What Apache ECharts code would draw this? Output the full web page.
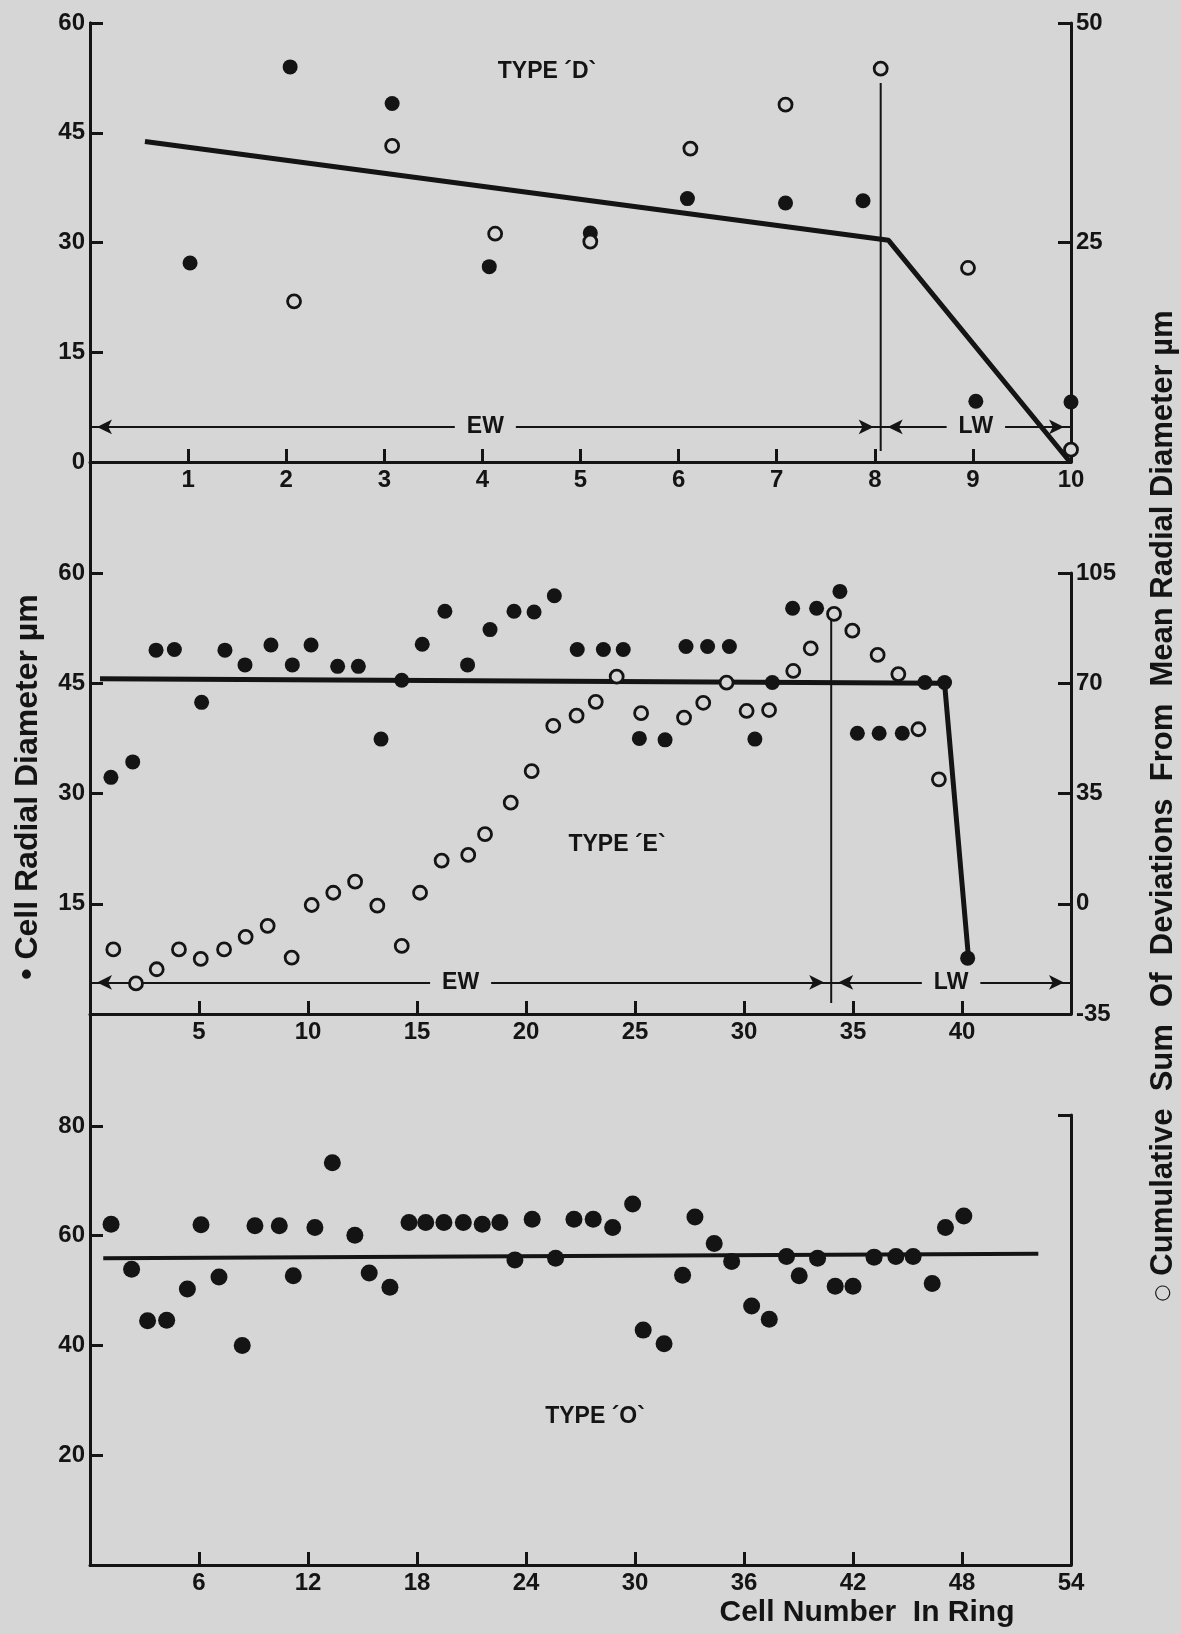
<!DOCTYPE html>
<html>
<head>
<meta charset="utf-8">
<script src="https://cdn.jsdelivr.net/npm/echarts@6/dist/echarts.min.js"></script>
<style>
html,body{margin:0;padding:0;background:#d5d5d5;}
#c{width:1181px;height:1634px;}
</style>
</head>
<body>
<div id="c"></div>
<script>
// ---------------- DATA ----------------
// Panel 1: TYPE 'D'
const typeD_xTicks = [1,2,3,4,5,6,7,8,9,10];
const typeD_leftTicks = [0,15,30,45,60];
const typeD_rightTicks = [25,50];
const typeD_filled = [[1.02,27.2],[2.04,54.0],[3.08,49.0],[4.07,26.7],[5.1,31.3],[6.09,36.0],[7.09,35.4],[7.88,35.7],[9.03,8.3],[10.0,8.2]];
const typeD_open = [[2.08,18.3],[3.08,36.0],[4.13,26.0],[5.1,25.1],[6.12,35.7],[7.09,40.7],[8.06,44.8],[8.95,22.1],[10.0,1.4]];
const typeD_fit = [[0.56,43.8],[8.14,30.3],[9.99,0]];
const typeD_boundary = [[8.06,51.8],[8.06,1.5]];
const typeD_zones = [['EW',0,8.06,4.8],['LW',8.06,10,4.8]];

// Panel 2: TYPE 'E'
const typeE_xTicks = [5,10,15,20,25,30,35,40];
const typeE_leftTicks = [15,30,45,60];
const typeE_rightLabels = [-35,0,35,70,105];
const typeE_rightTicks = [0,35,70,105];
const typeE_filled = [[0.96,32.2],[1.96,34.3],[3.03,49.5],[3.87,49.6],[5.12,42.4],[6.19,49.5],[7.11,47.5],[8.3,50.2],[9.28,47.5],[10.14,50.2],[11.36,47.3],[12.31,47.3],[13.35,37.4],[14.3,45.4],[15.24,50.3],[16.28,54.8],[17.32,47.5],[18.35,52.3],[19.45,54.8],[20.37,54.7],[21.3,56.9],[22.35,49.6],[23.55,49.6],[24.46,49.6],[25.2,37.5],[26.38,37.3],[27.34,50.0],[28.33,50.0],[29.33,50.0],[30.5,37.4],[31.3,45.1],[32.23,55.2],[33.33,55.2],[34.4,57.5],[35.2,38.2],[36.2,38.2],[37.26,38.2],[38.3,45.1],[39.2,45.1],[40.26,7.6]];
const typeE_open = [[1.07,-14.5],[2.11,-25.3],[3.06,-20.8],[4.08,-14.5],[5.08,-17.5],[6.15,-14.5],[7.14,-10.5],[8.15,-7.0],[9.25,-17.1],[10.17,-0.4],[11.16,3.5],[12.16,7.0],[13.18,-0.6],[14.3,-13.4],[15.14,3.5],[16.13,13.7],[17.35,15.5],[18.12,22.1],[19.3,32.1],[20.26,42.1],[21.25,56.5],[22.32,59.7],[23.2,64.1],[24.16,72.1],[25.28,60.5],[27.25,59.1],[28.13,63.8],[29.2,70.2],[30.12,61.2],[31.15,61.5],[32.26,73.9],[33.06,81.1],[34.13,92.0],[34.97,86.7],[36.13,79.0],[37.08,72.9],[38.0,55.4],[38.94,39.5]];
const typeE_fit = [[0.46,45.6],[39.2,45.0],[40.3,7.6]];
const typeE_boundary = [[34.0,53.8],[34.0,1.5]];
const typeE_zones = [['EW',0,34.0,4.3],['LW',34.0,45,4.3]];

// Panel 3: TYPE 'O'
const typeO_xTicks = [6,12,18,24,30,36,42,48,54];
const typeO_leftTicks = [20,40,60,80];
const typeO_filled = [[1.16,62.1],[2.29,53.9],[3.17,44.5],[4.22,44.6],[5.36,50.3],[6.11,62.0],[7.1,52.5],[8.38,40.0],[9.08,61.8],[10.42,61.8],[11.19,52.7],[12.38,61.5],[13.34,73.3],[14.58,60.1],[15.37,53.2],[16.51,50.6],[17.56,62.4],[18.48,62.4],[19.48,62.4],[20.55,62.4],[21.59,62.1],[22.56,62.4],[23.39,55.6],[24.34,63.0],[25.63,55.9],[26.64,63.0],[27.7,63.0],[28.77,61.5],[29.87,65.8],[30.45,42.8],[31.6,40.3],[32.62,52.8],[33.3,63.4],[34.36,58.6],[35.32,55.3],[36.42,47.2],[37.39,44.8],[38.34,56.2],[39.04,52.7],[40.05,55.9],[41.02,50.8],[42.0,50.8],[43.16,56.1],[44.36,56.2],[45.31,56.2],[46.36,51.3],[47.09,61.5],[48.1,63.6]];
const typeO_fit = [[0.73,55.9],[52.2,56.7]];

// ---------------- STYLE ----------------
const BG = '#d6d6d6';
const INK = '#141414';
const FONT = '"Liberation Sans", Arial, Helvetica, sans-serif';

function xAx(gi, max, ticks) {
  return {
    type: 'value', gridIndex: gi, min: 0, max: max,
    axisLine: {show: true, onZero: false, lineStyle: {color: INK, width: 3}},
    axisTick: {show: true, inside: true, length: 13, lineStyle: {color: INK, width: 3}, customValues: ticks},
    axisLabel: {show: true, customValues: ticks, color: INK, fontSize: 24, fontWeight: 'bold', fontFamily: FONT, margin: 6},
    splitLine: {show: false}
  };
}
function yAx(gi, min, max, pos, tickVals, labelVals) {
  return {
    type: 'value', gridIndex: gi, min: min, max: max, position: pos,
    axisLine: {show: true, onZero: false, lineStyle: {color: INK, width: 3}},
    axisTick: {show: tickVals.length > 0, inside: true, length: 13, lineStyle: {color: INK, width: 3}, customValues: tickVals},
    axisLabel: {show: labelVals.length > 0, customValues: labelVals, color: INK, fontSize: 24, fontWeight: 'bold', fontFamily: FONT, margin: 5},
    splitLine: {show: false}
  };
}
function filledSeries(xi, yi, data, size) {
  return {type: 'scatter', xAxisIndex: xi, yAxisIndex: yi, data: data, symbol: 'circle', symbolSize: size,
    itemStyle: {color: INK, opacity: 1}, silent: true, z: 5};
}
function openSeries(xi, yi, data) {
  return {type: 'scatter', xAxisIndex: xi, yAxisIndex: yi, data: data, symbol: 'circle', symbolSize: 13,
    itemStyle: {color: BG, borderColor: INK, borderWidth: 2.8, opacity: 1}, silent: true, z: 6};
}
function lineSeries(xi, yi, data, width, zones) {
  const s = {type: 'line', xAxisIndex: xi, yAxisIndex: yi, data: data, symbol: 'none', silent: true,
    lineStyle: {color: INK, width: width}, z: 4};
  if (zones) {
    s.markLine = {
      silent: true, animation: false,
      symbol: ['arrow', 'arrow'], symbolSize: [11, 15], symbolOffset: [[0, 7], [0, 7]],
      lineStyle: {color: INK, width: 2, type: 'solid'},
      label: {show: true, position: 'middle', distance: 0, verticalAlign: 'middle', formatter: '{b}',
        color: INK, fontSize: 23, fontWeight: 'bold', fontFamily: FONT, backgroundColor: BG, padding: [2, 12]},
      emphasis: {disabled: true},
      data: zones.map(z => [{name: z[0], coord: [z[1], z[3]]}, {name: z[0], coord: [z[2], z[3]]}])
    };
  }
  return s;
}

const chart = echarts.init(document.getElementById('c'), null, {renderer: 'canvas'});
const L = 90, W = 981;
const titleStyle = (txt, size) => ({text: txt, fontSize: size, fontWeight: 'bold', fontFamily: FONT, fill: INK,
  align: 'center', verticalAlign: 'middle',
  rich: {c: {fontSize: 20, fontWeight: 'bold', fontFamily: '"DejaVu Sans", sans-serif', fill: INK, verticalAlign: 'middle'}}});
const option = {
  backgroundColor: BG,
  animation: false,
  grid: [
    {left: L, top: 23, width: W, height: 439, outerBoundsMode: 'none', containLabel: false},
    {left: L, top: 573, width: W, height: 441, outerBoundsMode: 'none', containLabel: false},
    {left: L, top: 1115, width: W, height: 450, outerBoundsMode: 'none', containLabel: false},
    {left: L, top: 23, width: W, height: 1542, outerBoundsMode: 'none', containLabel: false}
  ],
  xAxis: [
    xAx(0, 10, typeD_xTicks),
    xAx(1, 45, typeE_xTicks),
    xAx(2, 54, typeO_xTicks),
    {type: 'value', gridIndex: 3, min: 0, max: 1, show: false}
  ],
  yAxis: [
    yAx(0, 0, 60, 'left', typeD_leftTicks, typeD_leftTicks),
    yAx(0, 0, 50, 'right', typeD_rightTicks, typeD_rightTicks),
    yAx(1, 0, 60, 'left', typeE_leftTicks, typeE_leftTicks),
    yAx(1, -35, 105, 'right', typeE_rightTicks, typeE_rightLabels),
    yAx(2, 0, 82, 'left', typeO_leftTicks, typeO_leftTicks),
    yAx(2, 0, 82, 'right', [82], []),
    {type: 'value', gridIndex: 3, min: 0, max: 1, position: 'left',
      axisLine: {show: true, onZero: false, lineStyle: {color: INK, width: 3}},
      axisTick: {show: false}, axisLabel: {show: false}, splitLine: {show: false}}
  ],
  series: [
    // Panel 1
    lineSeries(0, 0, typeD_fit, 5, typeD_zones),
    lineSeries(0, 0, typeD_boundary, 2),
    filledSeries(0, 0, typeD_filled, 15),
    openSeries(0, 1, typeD_open),
    // Panel 2
    lineSeries(1, 2, typeE_fit, 5, typeE_zones),
    lineSeries(1, 2, typeE_boundary, 2),
    filledSeries(1, 2, typeE_filled, 15),
    openSeries(1, 3, typeE_open),
    // Panel 3
    lineSeries(2, 4, typeO_fit, 4),
    filledSeries(2, 4, typeO_filled, 17)
  ],
  graphic: [
    {type: 'text', x: 547, y: 72, silent: true, style: {text: 'TYPE \u00B4D`', font: 'bold 23px ' + FONT, fill: INK, align: 'center', verticalAlign: 'middle'}},
    {type: 'text', x: 617, y: 845, silent: true, style: {text: 'TYPE \u00B4E`', font: 'bold 23px ' + FONT, fill: INK, align: 'center', verticalAlign: 'middle'}},
    {type: 'text', x: 595, y: 1417, silent: true, style: {text: 'TYPE \u00B4O`', font: 'bold 23px ' + FONT, fill: INK, align: 'center', verticalAlign: 'middle'}},
    {type: 'text', x: 28, y: 787, rotation: Math.PI / 2, silent: true, style: titleStyle('\u2022 Cell Radial Diameter \u00B5m', 32)},
    {type: 'text', x: 1163, y: 806, rotation: Math.PI / 2, silent: true, style: titleStyle('{c|\u25CB} Cumulative  Sum  Of  Deviations  From  Mean Radial Diameter \u00B5m', 31)},
    {type: 'text', x: 867, y: 1613, silent: true, style: {text: 'Cell Number  In Ring', font: 'bold 30px ' + FONT, fill: INK, align: 'center', verticalAlign: 'middle'}}
  ]
};
chart.setOption(option);
</script>
</body>
</html>
